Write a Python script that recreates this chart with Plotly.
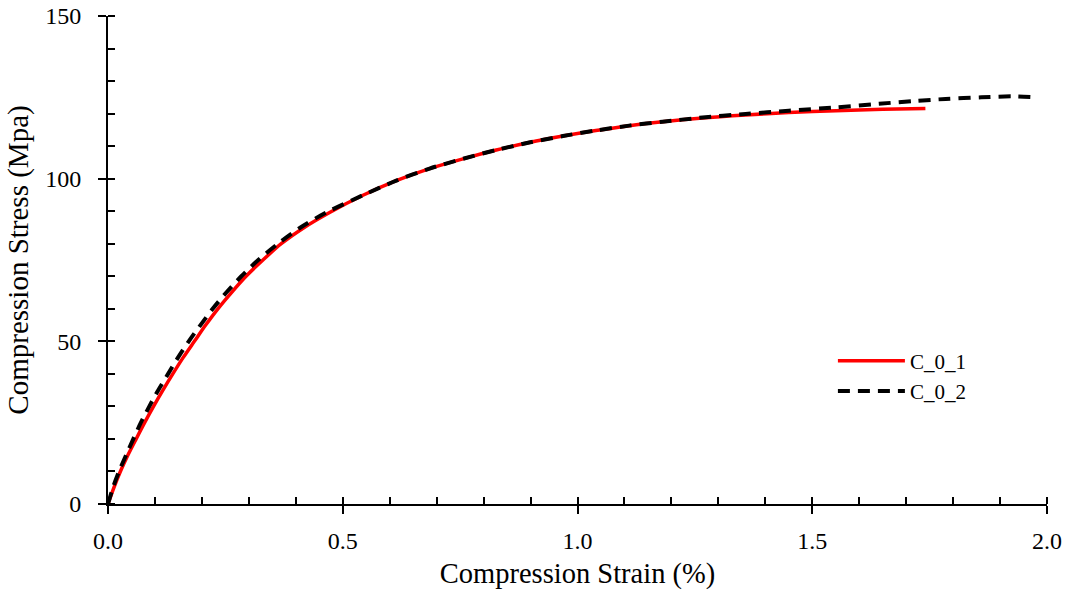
import plotly.graph_objects as go

# Data
strain_1 = [0, 0.013, 0.027, 0.043, 0.06, 0.078, 0.097, 0.117, 0.138, 0.16, 0.184,
            0.208, 0.234, 0.263, 0.294, 0.33, 0.369, 0.418, 0.472, 0.543, 0.614,
            0.685, 0.756, 0.827, 0.897, 0.969, 1.039, 1.11, 1.181, 1.26, 1.358,
            1.45, 1.55, 1.65, 1.741]
stress_1 = [0, 5.2, 10.2, 15.2, 20.0, 25.0, 30.0, 35.0, 40.0, 45.0, 50.0,
            55.0, 60.0, 65.0, 70.0, 75.0, 80.0, 85.0, 89.6, 94.9, 99.4,
            103.1, 106.1, 108.8, 111.1, 113.1, 114.8, 116.3, 117.5, 118.6, 119.6,
            120.3, 120.9, 121.3, 121.6]

strain_2 = [0, 0.011, 0.024, 0.039, 0.054, 0.07, 0.088, 0.107, 0.128, 0.149, 0.172,
            0.197, 0.223, 0.252, 0.284, 0.32, 0.362, 0.41, 0.465, 0.543, 0.614,
            0.685, 0.756, 0.827, 0.897, 0.969, 1.039, 1.11, 1.181, 1.26, 1.358,
            1.45, 1.55, 1.642, 1.72, 1.784, 1.86, 1.926, 1.975]
stress_2 = [0, 5.2, 10.2, 15.2, 20.0, 25.0, 30.0, 35.0, 40.0, 45.0, 50.0,
            55.0, 60.0, 65.0, 70.0, 75.0, 80.0, 85.0, 89.6, 94.9, 99.4,
            103.1, 106.1, 108.8, 111.1, 113.1, 114.8, 116.3, 117.5, 118.7, 119.9,
            120.9, 121.9, 123.0, 123.9, 124.5, 125.0, 125.3, 125.0]

series_names = ["C_0_1", "C_0_2"]
x_title = "Compression Strain (%)"
y_title = "Compression Stress (Mpa)"

FONT = "'Liberation Serif', 'Times New Roman', 'DejaVu Serif', serif"

fig = go.Figure()
fig.add_trace(go.Scatter(x=strain_1, y=stress_1, mode="lines", name=series_names[0],
                         line=dict(color="#ff0000", width=3.5, shape="spline", smoothing=0.8)))
fig.add_trace(go.Scatter(x=strain_2, y=stress_2, mode="lines", name=series_names[1],
                         line=dict(color="#000000", width=4, dash="12px,8px",
                                   shape="spline", smoothing=0.8)))
# empty trace to carry overlay axes (inner half of major ticks)
fig.add_trace(go.Scatter(x=[], y=[], xaxis="x2", yaxis="y2", showlegend=False, hoverinfo="skip"))

axis_common = dict(showgrid=False, zeroline=False, showline=True, linecolor="black",
                   linewidth=2, ticks="outside", ticklen=8, tickwidth=2, tickcolor="black",
                   automargin=False,
                   tickfont=dict(family=FONT, size=24, color="black"))

fig.update_layout(
    width=1073, height=596,
    margin=dict(l=108, r=26, t=16, b=92),
    paper_bgcolor="white", plot_bgcolor="white",
    font=dict(family=FONT, color="black"),
    xaxis=dict(range=[0, 2], tick0=0, dtick=0.5, tickformat=".1f",
               minor=dict(dtick=0.1, ticks="inside", ticklen=7, tickwidth=2, tickcolor="black"),
               title=dict(text=x_title, font=dict(family=FONT, size=28.5, color="black"), standoff=10),
               ticklabelstandoff=6,
               **axis_common),
    yaxis=dict(range=[0, 150], tick0=0, dtick=50,
               minor=dict(dtick=10, ticks="inside", ticklen=7, tickwidth=2, tickcolor="black"),
               title=dict(text=y_title, font=dict(family=FONT, size=29, color="black"), standoff=8),
               ticklabelstandoff=12,
               **axis_common),
    xaxis2=dict(overlaying="x", anchor="y2", range=[0, 2], tick0=0, dtick=0.5,
                showgrid=False, zeroline=False, showline=False, showticklabels=False,
                ticks="inside", ticklen=7, tickwidth=2, tickcolor="black"),
    yaxis2=dict(overlaying="y", anchor="x2", range=[0, 150], tick0=0, dtick=50,
                showgrid=False, zeroline=False, showline=False, showticklabels=False,
                ticks="inside", ticklen=7, tickwidth=2, tickcolor="black"),
    legend=dict(x=0.772, y=0.335, xanchor="left", yanchor="top",
                bgcolor="rgba(0,0,0,0)", borderwidth=0, itemwidth=67,
                font=dict(family=FONT, size=21, color="black"), tracegroupgap=0),
    showlegend=True,
)

fig.write_html("out.html")
